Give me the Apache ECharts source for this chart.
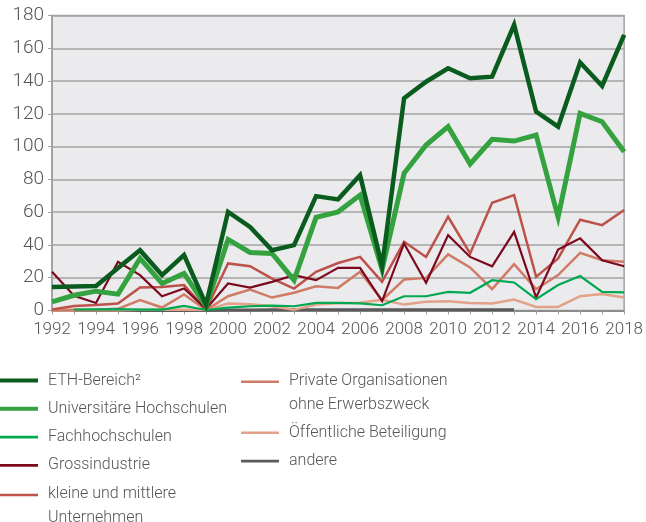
<!DOCTYPE html>
<html>
<head>
<meta charset="utf-8">
<script src="https://cdn.jsdelivr.net/npm/echarts@6/dist/echarts.min.js"></script>
<style>
html,body{margin:0;padding:0;background:#fff;}
#chart{width:646px;height:522px;}
</style>
</head>
<body>
<div id="chart"></div>
<script>
const years = ['1992','1993','1994','1995','1996','1997','1998','1999','2000','2001','2002','2003','2004','2005','2006','2007','2008','2009','2010','2011','2012','2013','2014','2015','2016','2017','2018'];
const yTicks = {min: 0, max: 180, interval: 20};

const eth      = [14.4, 14.6, 15, 26, 36.8, 21.6, 33.8, 3.5, 60.2, 51, 36.8, 39.9, 69.8, 67.8, 82.6, 27, 129.5, 139.6, 147.8, 141.7, 142.7, 174.3, 121.3, 112.2, 151.3, 137, 168.2];
const uni      = [5.3, 9.3, 11.8, 10, 31.8, 16.5, 22.6, 2.5, 43.4, 35.4, 34.8, 18.5, 56.8, 60.2, 70.4, 25, 83.7, 101, 112.2, 89.4, 104.5, 103.4, 107.1, 57, 120.3, 115.2, 96.9];
const fh       = [null, 0.6, 0.7, 0.8, 0.5, 0.5, 2.8, 0.3, 1.8, 2.6, 3, 2.6, 4.6, 4.6, 4.3, 3.2, 8.7, 8.7, 11.4, 10.8, 18.5, 17.1, 6.9, 15.5, 21, 11.4, 11];
const gross    = [23.6, 9, 4.6, 29.7, 21.6, 8.7, 13.4, 1, 16.5, 14, 17.5, 21.6, 18.5, 26, 26, 5.7, 40.9, 16.9, 46, 32.7, 27, 48, 7.9, 37.2, 44, 30.7, 27];
const kmu      = [0.6, 2.8, 3.4, 4.3, 14, 14.4, 15.5, 0.5, 28.7, 27, 19.5, 13.4, 23.6, 29, 32.7, 17.5, 41.9, 32.7, 57.2, 34.8, 65.7, 70.4, 20.5, 31.8, 55.4, 52.1, 61.3];
const privat   = [0.3, 0.5, 0.5, 1, 6.3, 1.8, 9.8, 0.3, 8.7, 12.8, 7.9, 10.8, 14.8, 13.8, 23.6, 6.3, 18.9, 19.9, 34.2, 26.3, 13, 28.3, 13, 21.6, 35.2, 30.7, 29.7];
const oeff     = [0, 0, 0, 0, 0.5, 0.5, 0.5, 0.3, 4.3, 3.8, 2.6, 0.4, 3.7, 4.4, 4.8, 6.5, 3.6, 5.3, 5.7, 4.6, 4.3, 6.7, 2.2, 2.2, 8.7, 10, 7.9];
const andere   = [null, 0, 0, 0, 0, 0, 0, 0, 0.3, 0.3, 0.5, 0.5, 0.5, 0.5, 0.5, 0.5, 0.5, 0.5, 0.5, 0.5, 0.5, 0.5, null, null, null, null, null];

const names = {
  eth: 'ETH-Bereich\u00B2',
  uni: 'Universitäre Hochschulen',
  fh: 'Fachhochschulen',
  gross: 'Grossindustrie',
  kmu: 'kleine und mittlere\nUnternehmen',
  privat: 'Private Organisationen\nohne Erwerbszweck',
  oeff: 'Öffentliche Beteiligung',
  andere: 'andere'
};

const FONT = 'Roboto';
const TXT = '#555555';
const LH = 24;

function line(name, data, color, width) {
  return {
    name: name, type: 'line', data: data, symbol: 'none', smooth: false,
    connectNulls: false,
    lineStyle: {color: color, width: width, join: 'miter', miterLimit: 20},
    itemStyle: {color: color},
    emphasis: {disabled: true}
  };
}
// legend swatches drawn in a 43x24 box (corners marked by zero-length segments)
const thick = 'path://M0,0L0.01,0M43,24L42.99,24M0,10H38V14H0Z';
const thin = 'path://M0,0L0.01,0M43,24L42.99,24M0,10.7H38V13.3H0Z';
const thinTop = 'path://M0,-1.3L0.01,-1.3M43,22.7L42.99,22.7M0,-1.3H38V1.3H0Z';

const legendText = {fontFamily: FONT, fontWeight: 300, fontSize: 16, color: TXT, lineHeight: LH};

const chart = echarts.init(document.getElementById('chart'), null, {renderer: 'canvas'});
chart.setOption({
  animation: false,
  backgroundColor: '#ffffff',
  grid: {left: 52, right: 20, top: 15.5, bottom: 211.5, show: true, backgroundColor: '#ebebee', borderColor: '#a3a3a3', borderWidth: 1.5},
  legend: [
    {
      left: 0, top: 368.5, height: 200, padding: 0, orient: 'vertical', itemWidth: 43, itemHeight: LH, itemGap: 4.3,
      selectedMode: false, symbolKeepAspect: true,
      itemStyle: {borderWidth: 0},
      textStyle: legendText,
      data: [
        {name: names.eth, icon: thick},
        {name: names.uni, icon: thick},
        {name: names.fh, icon: thin},
        {name: names.gross, icon: thin},
        {name: names.kmu, icon: thinTop}
      ]
    },
    {
      left: 241, top: 368.5, height: 200, padding: 0, orient: 'vertical', itemWidth: 43, itemHeight: LH, itemGap: 4.3,
      selectedMode: false, symbolKeepAspect: true,
      itemStyle: {borderWidth: 0},
      textStyle: legendText,
      data: [
        {name: names.privat, icon: thinTop},
        {name: names.oeff, icon: thin},
        {name: names.andere, icon: thin}
      ]
    }
  ],
  xAxis: {
    type: 'category', data: years, boundaryGap: false,
    axisLine: {lineStyle: {color: '#8c8c8c', width: 2}},
    axisTick: {show: true, interval: 0, length: 4, lineStyle: {color: '#a3a3a3', width: 1}},
    axisLabel: {interval: 1, margin: 11, fontFamily: FONT, fontWeight: 300, fontSize: 17, color: TXT},
    splitLine: {show: false}
  },
  yAxis: {
    type: 'value', min: yTicks.min, max: yTicks.max, interval: yTicks.interval,
    axisLine: {show: true, lineStyle: {color: '#a3a3a3', width: 2}},
    axisTick: {show: true, length: 4, lineStyle: {color: '#a3a3a3', width: 1}},
    axisLabel: {margin: 8, fontFamily: FONT, fontWeight: 300, fontSize: 19, color: TXT},
    splitLine: {show: true, lineStyle: {color: '#a3a3a3', width: 1.5}}
  },
  series: [
    line(names.andere, andere, '#5a5a5a', 3),
    line(names.oeff, oeff, '#e2a188', 2.5),
    line(names.privat, privat, '#cf7b66', 2.5),
    line(names.kmu, kmu, '#bc5249', 2.5),
    line(names.gross, gross, '#7c0a1f', 2.2),
    line(names.fh, fh, '#00a84f', 2.2),
    line(names.uni, uni, '#34a23f', 5),
    line(names.eth, eth, '#0a5c1e', 4.5)
  ]
});
</script>
</body>
</html>
